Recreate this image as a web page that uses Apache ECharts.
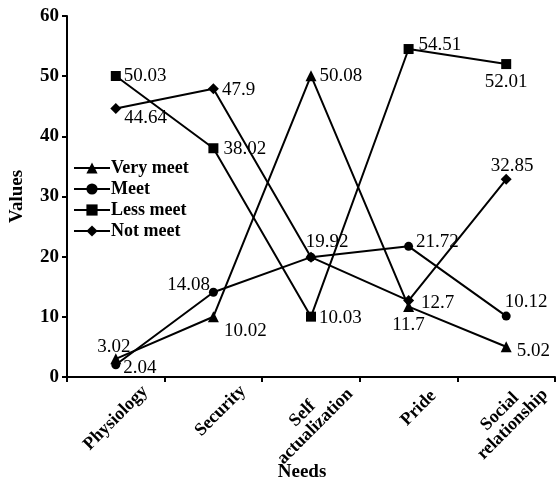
<!DOCTYPE html>
<html><head><meta charset="utf-8">
<script src="https://cdn.jsdelivr.net/npm/echarts@6/dist/echarts.min.js"></script>
<style>html,body{margin:0;padding:0;background:#fff}#c{width:557px;height:482px}</style>
</head><body><div id="c"></div>
<script>
var categories = ['Physiology', 'Security', 'Self\nactualization', 'Pride', 'Social\nrelationship'];
var seriesNames = ['Very meet', 'Meet', 'Less meet', 'Not meet'];
var veryMeet = [3.02, 10.02, 50.08, 11.7, 5.02];
var meet = [2.04, 14.08, 19.92, 21.72, 10.12];
var lessMeet = [50.03, 38.02, 10.03, 54.51, 52.01];
var notMeet = [44.64, 47.9, 19.92, 12.7, 32.85];
var yTicks = [0, 10, 20, 30, 40, 50, 60];

var FONT = 'Liberation Serif';
// label placement per point: [position, offsetX, offsetY]
var labelCfg = {
  'Very meet': [['top',-2,6],['right',2,14],['right',0,0],['bottom',0,0],['right',2,4]],
  'Meet': [['right',0,3],['left',4,-7],['top',16,2],['right',0,-4],['top',20,3]],
  'Less meet': [['right',0,0],['right',2,1],['right',0,1],['right',2,-4],['bottom',0,0]],
  'Not meet': [['right',0,10],['right',0,1],null,['right',4,2],['top',6,5]]
};
// per-category label padding to mimic the reference's placement
var catPad = [[0,0,0,0],[0,0,20,20],[6,6,0,0],[0,0,28,28],[0,0,0,0]];
var symbols = ['triangle', 'circle', 'rect', 'diamond'];
var symSizes = [11, 9, 10, 11];
var dataSets = [veryMeet, meet, lessMeet, notMeet];

function build(i) {
  var name = seriesNames[i];
  return {
    name: name,
    type: 'line',
    symbol: symbols[i],
    symbolSize: symSizes[i],
    lineStyle: {color: '#000', width: 2},
    itemStyle: {color: '#000'},
    z: 3,
    data: dataSets[i].map(function (v, j) {
      var c = labelCfg[name][j];
      if (!c) return {value: v, label: {show: false}};
      return {value: v, label: {show: true, position: c[0], offset: [c[1], c[2]], distance: 3}};
    }),
    label: {color: '#000', fontFamily: FONT, fontSize: 19, formatter: function (p) { return String(p.value); }}
  };
}

var chart = echarts.init(document.getElementById('c'));
chart.setOption({
  animation: false,
  backgroundColor: '#fff',
  textStyle: {fontFamily: FONT},
  grid: {left: 67, right: 2, top: 16, bottom: 105, containLabel: false, outerBoundsMode: 'none'},
  legend: {
    orient: 'vertical', left: 73, top: 159, padding: 0,
    itemWidth: 36, itemHeight: 14, itemGap: 3,
    data: seriesNames,
    textStyle: {fontFamily: FONT, fontSize: 18, fontWeight: 'bold', color: '#000', padding: [0,0,0,-4]}
  },
  xAxis: {
    type: 'category',
    data: categories.map(function (c, j) {
      return {value: c, textStyle: {padding: catPad[j], align: 'center', verticalAlign: 'middle',
        fontFamily: FONT, fontSize: 18, fontWeight: 'bold', color: '#000', lineHeight: 18}};
    }),
    boundaryGap: true,
    name: 'Needs', nameLocation: 'middle', nameGap: 86, nameMoveOverlap: false,
    nameTextStyle: {fontFamily: FONT, fontSize: 19, fontWeight: 'bold', color: '#000', padding: [0, 18, 0, 0]},
    axisLine: {lineStyle: {color: '#000', width: 2}},
    axisTick: {show: true, inside: false, length: 5, lineStyle: {color: '#000', width: 2}},
    axisLabel: {rotate: 45, interval: 0, margin: 41, align: 'center', verticalAlign: 'middle',
      fontFamily: FONT, fontSize: 18, fontWeight: 'bold', color: '#000', lineHeight: 18}
  },
  yAxis: {
    type: 'value', min: 0, max: 60, interval: 10,
    name: 'Values', nameLocation: 'middle', nameGap: 40, nameRotate: 90, nameMoveOverlap: false,
    nameTextStyle: {fontFamily: FONT, fontSize: 19, fontWeight: 'bold', color: '#000'},
    axisLine: {show: true, lineStyle: {color: '#000', width: 2}},
    axisTick: {show: true, length: 5, lineStyle: {color: '#000', width: 2}},
    splitLine: {show: false},
    axisLabel: {fontFamily: FONT, fontSize: 19, fontWeight: 'bold', color: '#000', margin: 8,
      formatter: function (v) { return yTicks.indexOf(v) >= 0 ? String(v) : ''; }}
  },
  series: [0, 1, 2, 3].map(build)
});
</script></body></html>
